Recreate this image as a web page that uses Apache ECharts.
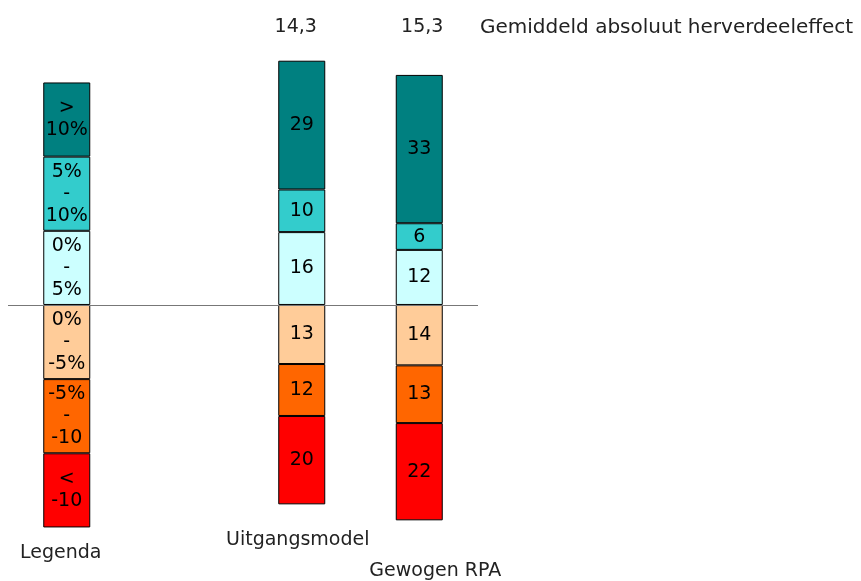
<!DOCTYPE html>
<html>
<head>
<meta charset="utf-8">
<script src="https://cdn.jsdelivr.net/npm/echarts@6/dist/echarts.min.js"></script>
<style>
  html, body { margin: 0; padding: 0; background: #fff; }
  #chart { width: 861px; height: 581px; }
</style>
</head>
<body>
<div id="chart"></div>
<script>
// ---- data ----
const categories = ['Legenda', '', 'Uitgangsmodel', 'Gewogen RPA'];
const averages = ['', '', '14,3', '15,3'];
const averageTitle = 'Gemiddeld absoluut herverdeeleffect';
const classLabels = ['0%\n-\n5%', '5%\n-\n10%', '>\n10%', '0%\n-\n-5%', '-5%\n-\n-10', '<\n-10'];
const pos0to5    = [16.7, null, 16.4, 12.4];
const pos5to10   = [16.7, null, 9.6, 6.0];
const posOver10  = [16.7, null, 29.0, 33.4];
const neg0to5    = [-16.7, null, -13.3, -13.6];
const neg5to10   = [-16.7, null, -11.7, -13.0];
const negUnder10 = [-16.7, null, -19.9, -21.9];
const seriesData = [pos0to5, pos5to10, posOver10, neg0to5, neg5to10, negUnder10];
const colors = ['#CCFFFF', '#33CCCC', '#008080', '#FFCC99', '#FF6600', '#FF0000'];

const FONT = 'DejaVu Sans';
const chart = echarts.init(document.getElementById('chart'), null, { renderer: 'canvas' });

const series = seriesData.map((d, si) => {
  const s = {
    type: 'bar',
    name: classLabels[si],
    stack: 'total',
    data: d,
    barWidth: 47,
    itemStyle: { color: colors[si], borderColor: '#000', borderWidth: 1 },
    label: {
      show: true,
      position: 'inside',
      color: '#000',
      fontFamily: FONT,
      fontSize: 19,
      lineHeight: 22,
      formatter: p => p.dataIndex === 0 ? classLabels[si] : String(Math.round(Math.abs(p.value)))
    },
    emphasis: { disabled: true },
    animation: false
  };
  if (si === 0) {
    s.markLine = {
      silent: true,
      symbol: ['none', 'none'],
      label: { show: false },
      lineStyle: { color: '#777777', type: 'solid', width: 1 },
      data: [{ yAxis: 0 }],
      animation: false
    };
  }
  return s;
});

chart.setOption({
  animation: false,
  title: {
    text: averageTitle,
    left: 480,
    top: 18,
    padding: 0,
    textStyle: { fontFamily: FONT, fontSize: 20, fontWeight: 'normal', color: '#222', lineHeight: 20 }
  },
  grid: { left: 8, width: 470, top: 38.5, height: 491.7, containLabel: false },
  xAxis: [
    {
      type: 'category',
      data: categories,
      position: 'bottom',
      axisLine: { show: false, onZero: false },
      axisTick: { show: false },
      splitLine: { show: false },
      axisLabel: {
        interval: 0,
        margin: 2,
        color: '#222',
        fontFamily: FONT,
        fontSize: 19,
        formatter: (v, i) => v ? '{c' + i + '|' + v + '}' : '',
        rich: {
          c0: { fontFamily: FONT, fontSize: 19, lineHeight: 20, color: '#222', padding: [29, 12, 0, 0] },
          c2: { fontFamily: FONT, fontSize: 19, lineHeight: 20, color: '#222', padding: [3, 8, 0, 0] },
          c3: { fontFamily: FONT, fontSize: 19, lineHeight: 20, color: '#222', padding: [65, 0, 0, 32] }
        }
      }
    },
    {
      type: 'category',
      data: averages,
      position: 'top',
      axisLine: { show: false, onZero: false },
      axisTick: { show: false },
      splitLine: { show: false },
      axisLabel: {
        interval: 0,
        margin: 1,
        color: '#222',
        fontFamily: FONT,
        fontSize: 19,
        formatter: (v, i) => v ? '{t' + i + '|' + v + '}' : '',
        rich: {
          t2: { fontFamily: FONT, fontSize: 19, lineHeight: 20, color: '#222', padding: [0, 12, 0, 0] },
          t3: { fontFamily: FONT, fontSize: 19, lineHeight: 20, color: '#222', padding: [0, 0, 0, 6] }
        }
      }
    }
  ],
  yAxis: { type: 'value', min: -50, max: 60, show: false },
  series: series
});
</script>
</body>
</html>
